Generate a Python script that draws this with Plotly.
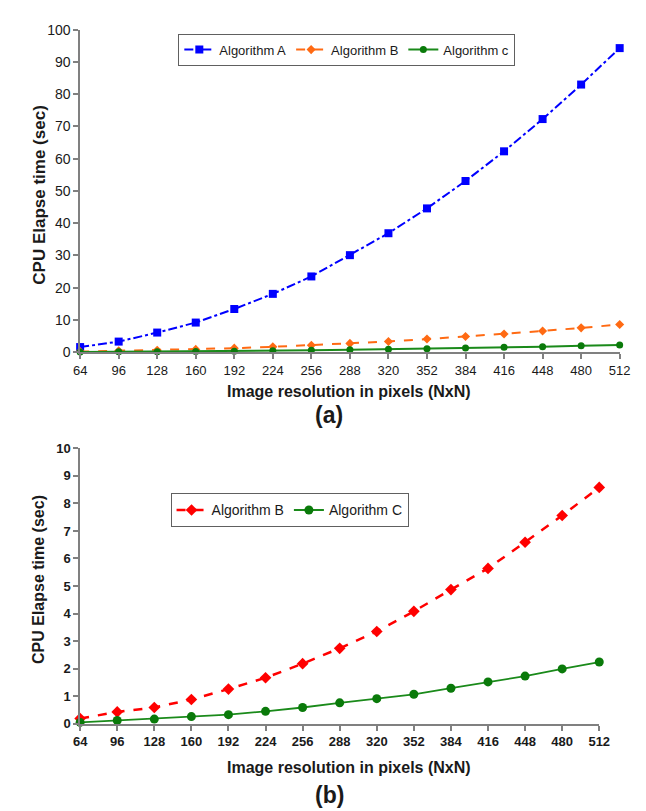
import plotly.graph_objects as go

resolution = [64, 96, 128, 160, 192, 224, 256, 288, 320, 352, 384, 416, 448, 480, 512]
alg_a = [1.6, 3.3, 6.1, 9.2, 13.4, 18.1, 23.5, 30.1, 36.9, 44.6, 53.1, 62.3, 72.3, 83.0, 94.3]
alg_b = [0.19, 0.43, 0.59, 0.88, 1.26, 1.67, 2.18, 2.74, 3.35, 4.08, 4.87, 5.64, 6.59, 7.56, 8.58]
alg_c = [0.05, 0.12, 0.17, 0.26, 0.33, 0.45, 0.59, 0.76, 0.91, 1.07, 1.29, 1.52, 1.73, 1.99, 2.24]

W, H = 646, 811
def px(x):
    return x / W
def py(y):
    return 1 - y / H

fig = go.Figure()

# Top chart (a)
fig.add_trace(go.Scatter(x=resolution, y=alg_a, name="Algorithm A", mode="lines+markers",
                         line=dict(color="#0000FF", dash="dashdot", width=2),
                         marker=dict(symbol="square", size=8, color="#0000FF"),
                         xaxis="x", yaxis="y", legend="legend", cliponaxis=False))
fig.add_trace(go.Scatter(x=resolution, y=alg_b, name="Algorithm B", mode="lines+markers",
                         line=dict(color="#FF6A13", dash="dash", width=2),
                         marker=dict(symbol="diamond", size=7, color="#FF6A13"),
                         xaxis="x", yaxis="y", legend="legend", cliponaxis=False))
fig.add_trace(go.Scatter(x=resolution, y=alg_c, name="Algorithm c", mode="lines+markers",
                         line=dict(color="#1A8A1A", width=2),
                         marker=dict(symbol="circle", size=7, color="#0A7A0A"),
                         xaxis="x", yaxis="y", legend="legend", cliponaxis=False))

# Bottom chart (b)
fig.add_trace(go.Scatter(x=resolution, y=alg_b, name="Algorithm B", mode="lines+markers",
                         line=dict(color="#FF0000", dash="dash", width=2.5),
                         marker=dict(symbol="diamond", size=9, color="#FF0000"),
                         xaxis="x2", yaxis="y2", legend="legend2", cliponaxis=False))
fig.add_trace(go.Scatter(x=resolution, y=alg_c, name="Algorithm C", mode="lines+markers",
                         line=dict(color="#1A8A1A", width=1.8),
                         marker=dict(symbol="circle", size=9, color="#0A7A0A"),
                         xaxis="x2", yaxis="y2", legend="legend2", cliponaxis=False))

axis_common = dict(showgrid=False, zeroline=False, showline=True, linecolor="#808080",
                   linewidth=1.5, ticks="outside", ticklen=5, tickcolor="#808080",
                   tickwidth=1.5)

fig.update_layout(
    width=W, height=H,
    margin=dict(l=0, r=0, t=0, b=0),
    paper_bgcolor="white", plot_bgcolor="white",
    font=dict(family="Liberation Sans, Arial, sans-serif", color="#1a1a1a"),
    xaxis=dict(domain=[px(67), px(622)], anchor="y", range=[64, 512],
               tickvals=resolution, ticktext=[str(v) for v in resolution],
               tickfont=dict(size=13), **axis_common),
    yaxis=dict(domain=[py(343), py(14)], anchor="x", range=[0, 100], dtick=10,
               tickfont=dict(size=14), **axis_common),
    xaxis2=dict(domain=[px(67), px(601)], anchor="y2", range=[64, 512],
                tickvals=resolution, ticktext=["<b>%d</b>" % v for v in resolution],
                tickfont=dict(size=13), **axis_common),
    yaxis2=dict(domain=[py(722), py(441)], anchor="x2", range=[0, 10], dtick=1,
                tickvals=list(range(0, 11)), ticktext=["<b>%d</b>" % v for v in range(0, 11)],
                tickfont=dict(size=13), **axis_common),
    legend=dict(orientation="h", x=px(168), y=py(18), xanchor="left", yanchor="top",
                bgcolor="white", bordercolor="#606060", borderwidth=1,
                font=dict(size=13), itemwidth=30, tracegroupgap=0),
    legend2=dict(orientation="h", x=px(160), y=py(487), xanchor="left", yanchor="top",
                 bgcolor="white", bordercolor="#606060", borderwidth=1,
                 font=dict(size=14), itemwidth=30, tracegroupgap=0),
    showlegend=True,
)

annotations = [
    dict(text="<b>CPU Elapse time (sec)</b>", x=px(25), y=py(182), textangle=-90,
         font=dict(size=17)),
    dict(text="<b>Image resolution in pixels (NxN)</b>", x=px(344), y=py(383),
         font=dict(size=16)),
    dict(text="<b>(a)</b>", x=px(323), y=py(407), font=dict(size=23)),
    dict(text="<b>CPU Elapse time (sec)</b>", x=px(24), y=py(575), textangle=-90,
         font=dict(size=16)),
    dict(text="<b>Image resolution in pixels (NxN)</b>", x=px(344), y=py(767),
         font=dict(size=16)),
    dict(text="<b>(b)</b>", x=px(323), y=py(795), font=dict(size=23)),
]
for a in annotations:
    a.update(xref="paper", yref="paper", showarrow=False, xanchor="center", yanchor="middle")
fig.update_layout(annotations=annotations)

fig.write_html("out.html")
